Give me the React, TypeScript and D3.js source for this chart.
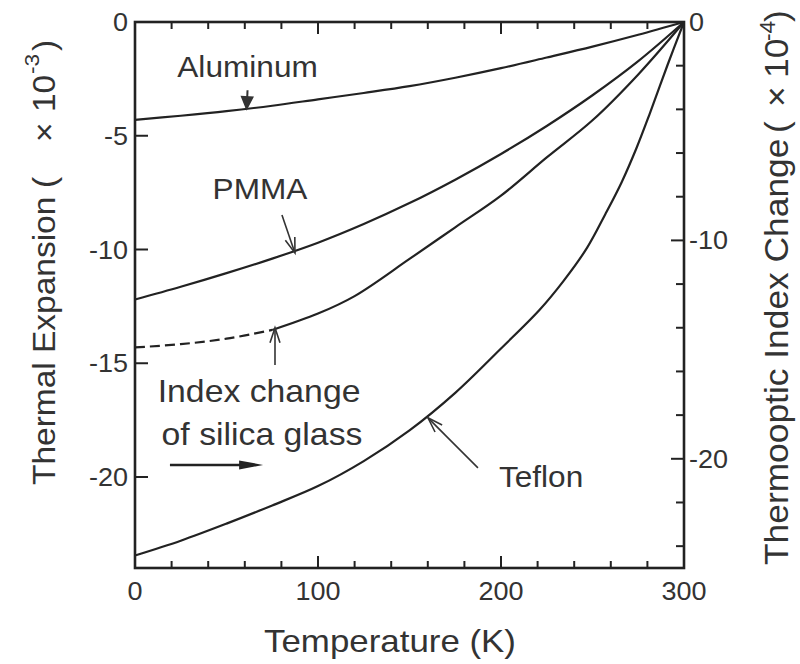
import React from 'react';
import * as d3 from 'd3';

const W = 800;
const H = 664;

// ---- data ----
const alTemps = [0, 25, 50, 75, 100, 125, 150, 175, 200, 225, 250, 275, 300];
const aluminum = [-4.3, -4.12, -3.92, -3.68, -3.4, -3.12, -2.82, -2.45, -2.03, -1.56, -1.08, -0.56, 0];

const pmmaTemps = [0, 25, 50, 75, 100, 125, 150, 175, 200, 225, 250, 275, 300];
const pmma = [-12.2, -11.64, -11.04, -10.4, -9.7, -8.88, -7.96, -6.93, -5.8, -4.57, -3.22, -1.72, 0];

// silica index change is read on the right axis (x10^-4)
const silicaTemps = [0, 25, 50, 75, 100, 120, 150, 175, 200, 225, 250, 275, 300];
const silica = [-14.9, -14.75, -14.5, -14.1, -13.35, -12.55, -10.85, -9.4, -7.95, -6.2, -4.5, -2.4, 0];
const silicaSolidFrom = 75; // below this temperature the curve is dashed

const teflonTemps = [0, 25, 50, 75, 100, 125, 150, 175, 200, 221, 234, 247, 257, 266, 274, 281, 291, 300];
const teflon = [-23.45, -22.8, -22.05, -21.25, -20.4, -19.3, -17.95, -16.3, -14.35, -12.66, -11.4, -9.93, -8.45, -7.03, -5.55, -4.09, -1.89, 0];

const xMajorTicks = [0, 100, 200, 300];
const leftTicks = [0, -5, -10, -15, -20];
const rightTicks = [0, -10, -20];

const FONT = "'Liberation Sans', Arial, Helvetica, sans-serif";
const INK = '#222';
const TXT = '#333';

export default function App() {
  const x = d3.scaleLinear().domain([0, 300]).range([135, 684]);
  const yL = d3.scaleLinear().domain([-24, 0]).range([568, 22]);
  const yR = d3.scaleLinear().domain([-25, 0]).range([568, 22]);

  const mk = (ts: number[], vs: number[]) => ts.map((t, i) => [t, vs[i]] as [number, number]);
  const curve = d3.curveCatmullRom.alpha(0.5);
  const lineL = d3.line<[number, number]>().x(d => x(d[0])).y(d => yL(d[1])).curve(curve);
  const lineR = d3.line<[number, number]>().x(d => x(d[0])).y(d => yR(d[1])).curve(curve);

  const silicaPts = mk(silicaTemps, silica);
  const silicaDash = silicaPts.filter(d => d[0] <= silicaSolidFrom);
  const silicaSolid = silicaPts.filter(d => d[0] >= silicaSolidFrom);

  const xMinor = d3.range(20, 300, 20).filter(t => t % 100 !== 0);
  const rMinor = d3.range(-2, -25, -2).filter(v => v % 10 !== 0);

  const [x0, x1] = x.range();
  const yTop = yL(0);
  const yBot = yL(-24);

  const head = (tx: number, ty: number, hx: number, hy: number, len: number, half: number, closed: boolean) => {
    const dx = hx - tx, dy = hy - ty;
    const L = Math.hypot(dx, dy);
    const ux = dx / L, uy = dy / L;
    const px = -uy, py = ux;
    const bx = hx - ux * len, by = hy - uy * len;
    return `M${bx + px * half},${by + py * half}L${hx},${hy}L${bx - px * half},${by - py * half}${closed ? 'Z' : ''}`;
  };

  // annotation anchors (data coordinates)
  const pointers = [
    { t0: 80.3, v0: -8.48, t1: 87.4, v1: -10.15, ax: 'L' },
    { t0: 187.4, v0: -19.6, t1: 160.1, v1: -17.4, ax: 'L' },
    { t0: 76.5, v0: -15.7, t1: 76.5, v1: -14.0, ax: 'R' },
  ];
  const labels = [
    { text: 'Aluminum', t: 61.5, v: -2.42, fs: 29 },
    { text: 'PMMA', t: 68.3, v: -7.78, fs: 29 },
    { text: 'Teflon', t: 221.9, v: -20.44, fs: 29 },
    { text: 'Index change', t: 67.8, v: -16.7, fs: 31 },
    { text: 'of silica glass', t: 69.4, v: -18.59, fs: 31 },
  ];

  const al0 = { x: x(61.5), y: yL(-3.0) };
  const al1 = { x: x(61), y: yL(-3.82) };
  const ra0 = { x: x(19.1), y: yL(-19.47) };
  const ra1 = { x: x(70), y: yL(-19.47) };

  const SL = 1.08; // stretch along the left title
  const SR = 1.04; // stretch along the right title

  return (
    <svg width={W} height={H} style={{ position: 'absolute', left: 0, top: 0, background: '#fff' }}
      fontFamily={FONT}>
      <rect x={0} y={0} width={W} height={H} fill="#fff" />

      {/* curves */}
      <g fill="none" stroke={INK} strokeWidth={2.2} strokeLinejoin="round">
        <path d={lineL(mk(alTemps, aluminum)) || ''} />
        <path d={lineL(mk(pmmaTemps, pmma)) || ''} />
        <path d={lineR(silicaSolid) || ''} />
        <path d={lineR(silicaDash) || ''} strokeDasharray="10,5" />
        <path d={lineL(mk(teflonTemps, teflon)) || ''} />
      </g>

      {/* ticks */}
      <g stroke={INK} strokeWidth={2}>
        {xMajorTicks.slice(1, -1).map(t => (
          <g key={'xm' + t}>
            <line x1={x(t)} x2={x(t)} y1={yBot} y2={yBot - 12} />
            <line x1={x(t)} x2={x(t)} y1={yTop} y2={yTop + 12} />
          </g>
        ))}
        {xMinor.map(t => (
          <g key={'xn' + t}>
            <line x1={x(t)} x2={x(t)} y1={yBot} y2={yBot - 7} />
            <line x1={x(t)} x2={x(t)} y1={yTop} y2={yTop + 7} />
          </g>
        ))}
        {leftTicks.slice(1).map(v => (
          <line key={'l' + v} x1={x0} x2={x0 + 13} y1={yL(v)} y2={yL(v)} />
        ))}
        {rightTicks.slice(1).map(v => (
          <line key={'r' + v} x1={x1} x2={x1 - 13} y1={yR(v)} y2={yR(v)} />
        ))}
        {rMinor.map(v => (
          <line key={'rn' + v} x1={x1} x2={x1 - 8} y1={yR(v)} y2={yR(v)} />
        ))}
      </g>

      {/* frame */}
      <rect x={x0} y={yTop} width={x1 - x0} height={yBot - yTop} fill="none" stroke={INK} strokeWidth={2.6} />

      {/* pointers */}
      <g stroke="#333" strokeWidth={1.6} fill="none">
        {pointers.map((p, i) => {
          const ys = p.ax === 'L' ? yL : yR;
          const ax0 = x(p.t0), ay0 = ys(p.v0), ax1 = x(p.t1), ay1 = ys(p.v1);
          return (
            <g key={'p' + i}>
              <line x1={ax0} y1={ay0} x2={ax1} y2={ay1} />
              <path d={head(ax0, ay0, ax1, ay1, 15, 5, false)} />
            </g>
          );
        })}
        <line x1={al0.x} y1={al0.y} x2={al1.x} y2={al1.y} strokeWidth={2} />
        <path d={head(al0.x, al0.y, al1.x, al1.y, 12, 5.5, true)} fill="#333" />
        <line x1={ra0.x} y1={ra0.y} x2={ra1.x - 10} y2={ra1.y} strokeWidth={2.6} stroke="#222" />
        <path d={head(ra0.x, ra0.y, ra1.x, ra1.y, 24, 4.5, true)} fill="#222" stroke="none" />
      </g>

      {/* annotation labels */}
      <g fill={TXT}>
        {labels.map(l => (
          <text key={l.text} transform={`translate(${x(l.t)},${yL(l.v)}) scale(1.09,1)`} textAnchor="middle"
            fontSize={l.fs}>{l.text}</text>
        ))}
      </g>

      {/* tick labels */}
      <g fill={TXT} fontSize={25}>
        {xMajorTicks.map(t => (
          <text key={'bx' + t} transform={`translate(${x(t)},600) scale(1.08,1)`} textAnchor="middle">{t}</text>
        ))}
        {leftTicks.map(v => (
          <text key={'ly' + v} transform={`translate(128,${yL(v) + 9}) scale(1.08,1)`} textAnchor="end">{v}</text>
        ))}
        {rightTicks.map(v => (
          <text key={'ry' + v} transform={`translate(689,${yR(v) + 9}) scale(1.08,1)`} textAnchor="start">{v}</text>
        ))}
      </g>

      {/* axis titles */}
      <text transform="translate(390,652) scale(1.09,1)" textAnchor="middle" fontSize={32} fill={TXT}>
        Temperature (K)
      </text>

      <text transform={`translate(55,485) scale(1,${SL}) rotate(-90)`} fontSize={31} fill={TXT}>
        <tspan x={0} y={0}>Thermal Expansion</tspan>
        <tspan x={297 / SL} y={0}>(</tspan>
        <tspan x={343 / SL} y={0}>×</tspan>
        <tspan x={373 / SL} y={0}>10</tspan>
        <tspan x={411 / SL} y={-16} fontSize={21}>-3</tspan>
        <tspan x={434 / SL} y={0}>)</tspan>
      </text>

      <text transform={`translate(788,565) scale(1,${SR}) rotate(-90)`} fontSize={34} fill={TXT}>
        <tspan x={0} y={0}>Thermooptic Index Change</tspan>
        <tspan x={432 / SR} y={0}>(</tspan>
        <tspan x={458 / SR} y={0}>×</tspan>
        <tspan x={487 / SR} y={0}>10</tspan>
        <tspan x={524 / SR} y={-13} fontSize={22}>-4</tspan>
        <tspan x={543 / SR} y={0}>)</tspan>
      </text>
    </svg>
  );
}
